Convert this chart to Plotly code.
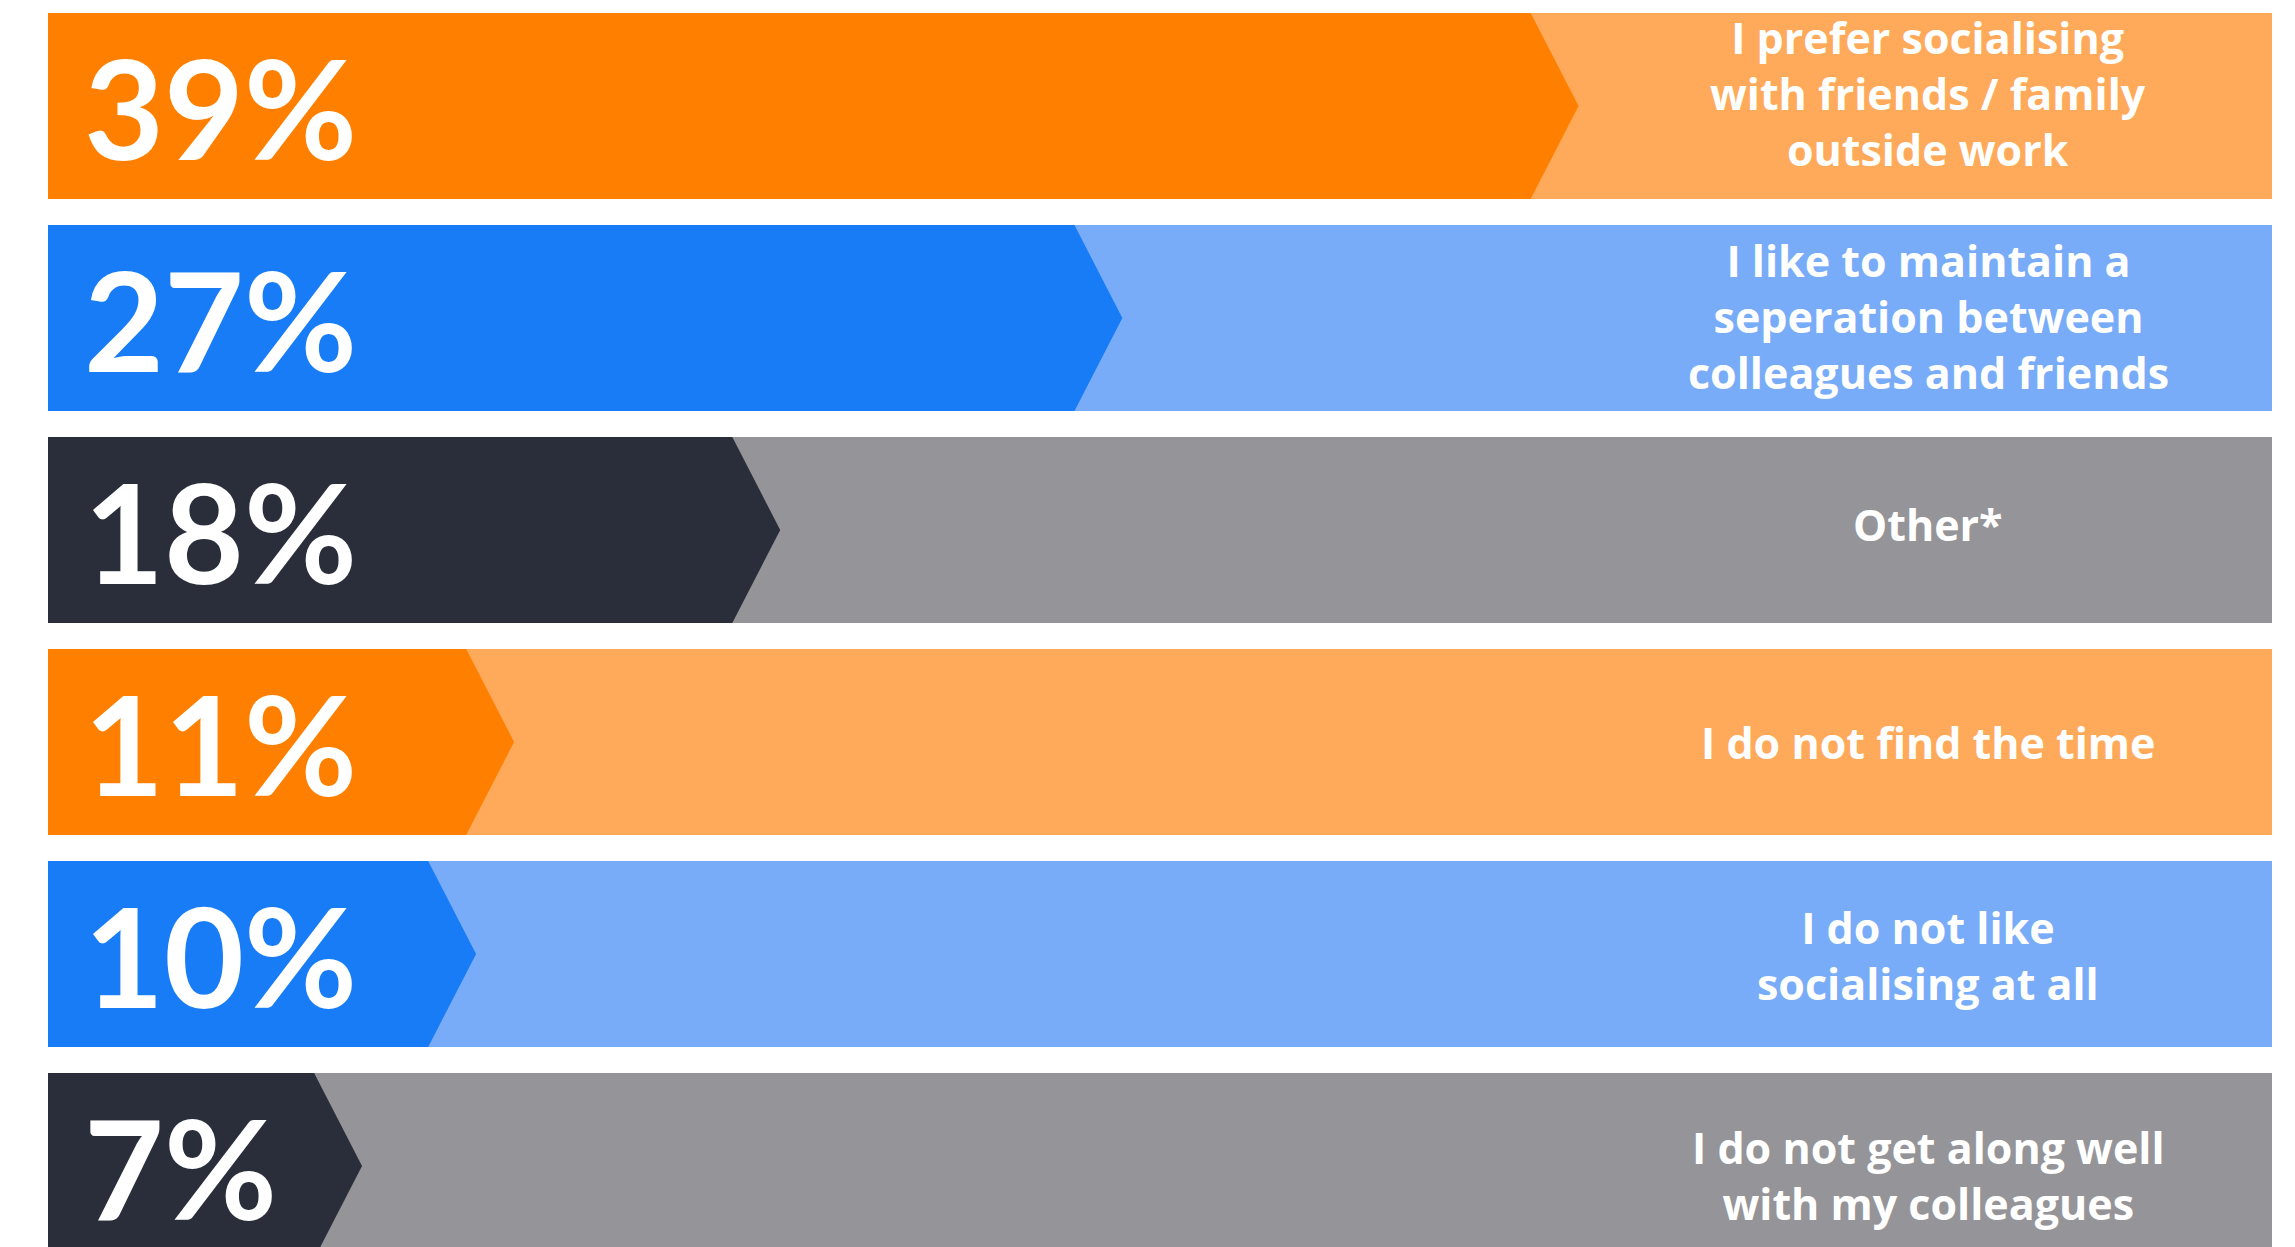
import plotly.graph_objects as go

# ---- data ----
percent_values = [39, 27, 18, 11, 10, 7]
percent_labels = ["39%", "27%", "18%", "11%", "10%", "7%"]
reasons = [
    "I prefer socialising<br>with friends / family<br>outside work",
    "I like to maintain a<br>seperation between<br>colleagues and friends",
    "Other*",
    "I do not find the time",
    "I do not like<br>socialising at all",
    "I do not get along well<br>with my colleagues",
]
dark_colors = ["#FF8000", "#177CF6", "#292E3A", "#FF8000", "#177CF6", "#292E3A"]
light_colors = ["#FFAA5A", "#78ACF8", "#959498", "#FFAA5A", "#78ACF8", "#959498"]

# ---- layout constants ----
X_MAX = 58.5          # axis extent (percent units)
BAR_H = 0.877         # bar thickness in row units
TIP = 1.26            # chevron tip depth in percent units
W, H = 2295, 1247
ML, MR = 48, 23
LABEL_SHIFT = [13, 2, 6, 0, -1, -9]   # small vertical nudges of reason labels (px)

fig = go.Figure()
rows = list(range(len(percent_values)))

# light full-width background bars
fig.add_trace(go.Bar(
    y=rows, x=[X_MAX] * len(rows), base=0, orientation="h",
    width=BAR_H, marker=dict(color=light_colors, line=dict(width=0)),
    hoverinfo="skip", showlegend=False,
))

# dark chevrons from the values
for i, v in enumerate(percent_values):
    top, bot = i - BAR_H / 2, i + BAR_H / 2
    fig.add_trace(go.Scatter(
        x=[0, v, v + TIP, v, 0, 0],
        y=[top, top, i, bot, bot, top],
        mode="lines", fill="toself", fillcolor=dark_colors[i],
        line=dict(width=0, color=dark_colors[i]),
        hoverinfo="skip", showlegend=False,
    ))

# percentage labels
for i, t in enumerate(percent_labels):
    fig.add_annotation(
        x=0, y=i, xref="x", yref="y", text=t, showarrow=False,
        xanchor="left", yanchor="middle", xshift=34, yshift=0,
        height=150, valign="middle",
        font=dict(family="Lato", size=138, color="white", weight="bold"),
    )

# reason labels
for i, t in enumerate(reasons):
    fig.add_annotation(
        x=(1928 - ML) / (W - ML - MR), y=i, xref="paper", yref="y", text=t,
        showarrow=False, xanchor="center", yanchor="middle", align="center",
        yshift=LABEL_SHIFT[i],
        font=dict(family="Open Sans", size=43, color="white", weight="bold"),
    )

fig.update_layout(
    width=W, height=H,
    margin=dict(l=ML, r=MR, t=0, b=0),
    paper_bgcolor="white", plot_bgcolor="white",
    barmode="overlay", bargap=0,
    xaxis=dict(range=[0, X_MAX], visible=False, fixedrange=True),
    yaxis=dict(range=[-0.5 + H / 212.0, -0.5], visible=False, fixedrange=True),
    showlegend=False,
)

fig.write_html("out.html")
